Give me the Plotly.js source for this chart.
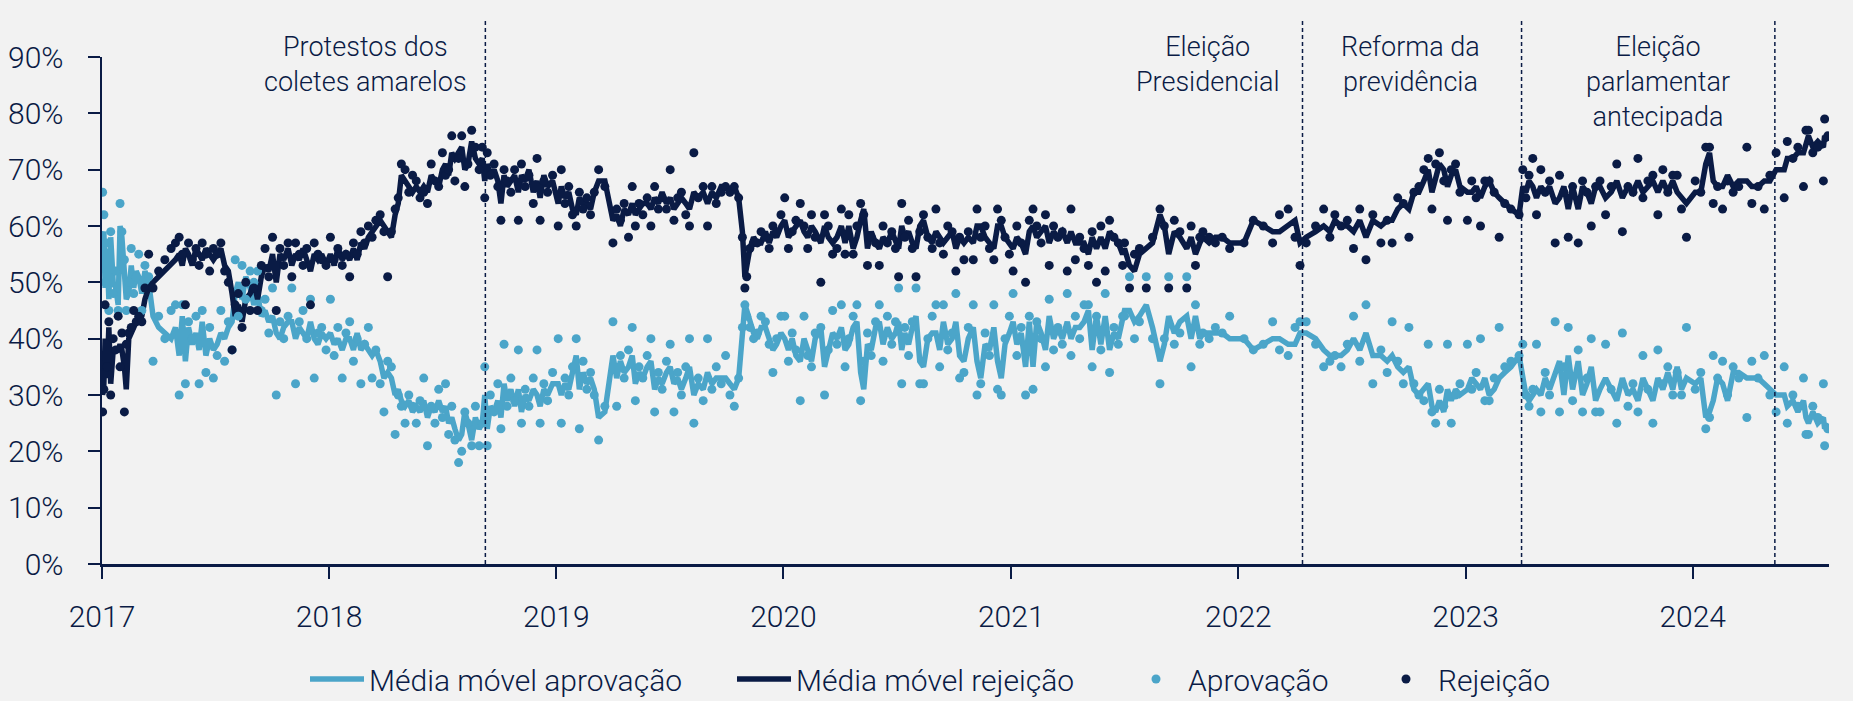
<!DOCTYPE html>
<html>
<head>
<meta charset="utf-8">
<script src="https://cdn.plot.ly/plotly-3.0.1.min.js"></script>
<style>
  html, body { margin: 0; padding: 0; background: #F2F2F2; }
  #chart { width: 1853px; height: 701px; }
</style>
</head>
<body>
<div id="chart"></div>
<script>
// ---------------- DATA ----------------
const pollDates = [
  // 2017
  '2017-01-02','2017-01-04','2017-01-06','2017-01-09','2017-01-12','2017-01-15','2017-01-19','2017-01-23','2017-01-27','2017-01-30',
  '2017-02-02','2017-02-06','2017-02-09','2017-02-13','2017-02-17','2017-02-21','2017-02-25',
  '2017-03-01','2017-03-06','2017-03-11','2017-03-17','2017-03-24',
  '2017-04-02','2017-04-12','2017-04-22','2017-04-29',
  '2017-05-05','2017-05-10','2017-05-15','2017-05-20','2017-05-26',
  '2017-06-01','2017-06-06','2017-06-11','2017-06-17','2017-06-23','2017-06-29',
  '2017-07-05','2017-07-11','2017-07-17','2017-07-23','2017-07-29',
  '2017-08-03','2017-08-08','2017-08-14','2017-08-20','2017-08-27',
  '2017-09-02','2017-09-08','2017-09-14','2017-09-20','2017-09-26',
  '2017-10-02','2017-10-08','2017-10-14','2017-10-20','2017-10-27',
  '2017-11-02','2017-11-08','2017-11-14','2017-11-20','2017-11-26',
  '2017-12-02','2017-12-08','2017-12-14','2017-12-20','2017-12-27',
  // 2018
  '2018-01-03','2018-01-09','2018-01-15','2018-01-22','2018-01-28',
  '2018-02-03','2018-02-09','2018-02-15','2018-02-21','2018-02-27',
  '2018-03-05','2018-03-11','2018-03-17','2018-03-24','2018-03-30',
  '2018-04-05','2018-04-11','2018-04-17','2018-04-22','2018-04-27',
  '2018-05-03','2018-05-09','2018-05-15','2018-05-21','2018-05-27',
  '2018-06-02','2018-06-08','2018-06-14','2018-06-20','2018-06-26',
  '2018-07-02','2018-07-07','2018-07-12','2018-07-17','2018-07-22','2018-07-28',
  '2018-08-02','2018-08-07','2018-08-12','2018-08-18','2018-08-24','2018-08-30',
  '2018-09-04','2018-09-08','2018-09-12','2018-09-17','2018-09-23','2018-09-29',
  '2018-10-04','2018-10-09','2018-10-14','2018-10-20','2018-10-26',
  '2018-11-01','2018-11-06','2018-11-12','2018-11-18','2018-11-25',
  '2018-12-01','2018-12-06','2018-12-12','2018-12-18','2018-12-26',
  // 2019
  '2019-01-04','2019-01-09','2019-01-15','2019-01-21','2019-01-27',
  '2019-02-02','2019-02-07','2019-02-13','2019-02-19','2019-02-25',
  '2019-03-03','2019-03-10','2019-03-20',
  '2019-04-02','2019-04-08','2019-04-14','2019-04-20','2019-04-27',
  '2019-05-03','2019-05-08','2019-05-14','2019-05-20','2019-05-27',
  '2019-06-02','2019-06-08','2019-06-14','2019-06-20','2019-06-27',
  '2019-07-03','2019-07-09','2019-07-15','2019-07-21','2019-07-28',
  '2019-08-03','2019-08-10','2019-08-17','2019-08-25',
  '2019-09-01','2019-09-08','2019-09-15','2019-09-23','2019-09-30',
  '2019-10-07','2019-10-14','2019-10-21','2019-10-27','2019-10-31',
  '2019-11-03','2019-11-08','2019-11-14','2019-11-20','2019-11-26',
  '2019-12-03','2019-12-09','2019-12-15','2019-12-21','2019-12-28',
  // 2020
  '2020-01-03','2020-01-09','2020-01-15','2020-01-21','2020-01-28',
  '2020-02-03','2020-02-09','2020-02-15','2020-02-21',
  '2020-03-01','2020-03-07','2020-03-13','2020-03-20','2020-03-27',
  '2020-04-03','2020-04-09','2020-04-15','2020-04-22','2020-04-28',
  '2020-05-04','2020-05-09','2020-05-15','2020-05-21','2020-05-28',
  '2020-06-03','2020-06-09','2020-06-16','2020-06-23','2020-06-29',
  '2020-07-04','2020-07-09','2020-07-14','2020-07-20','2020-07-26',
  '2020-08-01','2020-08-07','2020-08-13','2020-08-20','2020-08-27',
  '2020-09-02','2020-09-08','2020-09-14','2020-09-21','2020-09-28',
  '2020-10-04','2020-10-10','2020-10-17','2020-10-24',
  '2020-11-01','2020-11-07','2020-11-13','2020-11-20','2020-11-27',
  '2020-12-04','2020-12-10','2020-12-16','2020-12-22','2020-12-29',
  // 2021
  '2021-01-04','2021-01-10','2021-01-17','2021-01-24','2021-01-30',
  '2021-02-05','2021-02-11','2021-02-18','2021-02-25',
  '2021-03-03','2021-03-10','2021-03-17','2021-03-24',
  '2021-04-01','2021-04-07','2021-04-14','2021-04-21','2021-04-28',
  '2021-05-05','2021-05-11','2021-05-18','2021-05-25',
  '2021-06-01','2021-06-08','2021-06-15','2021-06-22','2021-06-29',
  '2021-07-02','2021-07-10','2021-07-18','2021-07-26',
  '2021-08-06','2021-08-16','2021-08-28',
  '2021-09-04','2021-09-11','2021-09-20','2021-09-29',
  '2021-10-10','2021-10-17','2021-10-24','2021-10-31',
  '2021-11-05','2021-11-15','2021-11-25',
  '2021-12-06','2021-12-18',
  // 2022
  '2022-01-10','2022-01-25','2022-02-10','2022-02-25','2022-03-08','2022-03-22',
  '2022-04-02','2022-04-10','2022-04-20','2022-05-05','2022-05-18','2022-05-28',
  '2022-06-05','2022-06-15','2022-06-25','2022-07-05','2022-07-15','2022-07-25',
  '2022-08-05','2022-08-18','2022-08-28','2022-09-05','2022-09-14','2022-09-23',
  '2022-10-02','2022-10-10','2022-10-18','2022-10-26',
  '2022-11-02','2022-11-08','2022-11-14','2022-11-20','2022-11-27',
  '2022-12-03','2022-12-09','2022-12-16','2022-12-23',
  // 2023
  '2023-01-04','2023-01-11','2023-01-18','2023-01-25',
  '2023-02-01','2023-02-08','2023-02-16','2023-02-24',
  '2023-03-05','2023-03-15','2023-03-28',
  '2023-04-03','2023-04-08','2023-04-13','2023-04-19','2023-04-25',
  '2023-05-02','2023-05-09','2023-05-16','2023-05-25',
  '2023-06-01','2023-06-08','2023-06-15','2023-06-22',
  '2023-07-01','2023-07-08','2023-07-15','2023-07-22','2023-07-29',
  '2023-08-05','2023-08-14','2023-08-23',
  '2023-09-01','2023-09-10','2023-09-19','2023-09-27',
  '2023-10-05','2023-10-13','2023-10-21','2023-10-29',
  '2023-11-06','2023-11-14','2023-11-22','2023-11-30',
  '2023-12-07','2023-12-14','2023-12-22',
  // 2024
  '2024-01-05','2024-01-14','2024-01-22','2024-01-28',
  '2024-02-03','2024-02-10','2024-02-18','2024-02-26',
  '2024-03-06','2024-03-15','2024-03-28',
  '2024-04-05','2024-04-15','2024-04-25',
  '2024-05-04','2024-05-14','2024-05-27',
  '2024-06-01','2024-06-10','2024-06-18','2024-06-27',
  '2024-07-01','2024-07-05','2024-07-12','2024-07-20','2024-07-29','2024-07-31',
  '2024-08-05'
];

// Aprovação (poll values, %)
const approval = [
  // 2017
  66,62,50,57,45,59,48,52,45,64, 59,54,45,50,56,48,51, 55,45,53,51,36, 44,40,45,46, 30,46,32,43,40,
  44,32,45,34,42,33, 37,45,36,43,38, 54,44,53,47,52, 50,52,45,47,41, 49,30,43,40,44, 49,32,43,45,40, 47,33,41,42,38,
  // 2018
  47,37,42,33,41, 43,36,40,32,39, 42,33,38,32,27, 36,35,23,30,28, 25,30,28,25,29, 33,21,28,25,31,
  26,32,23,28,22,18, 20,27,25,21,28,21, 25,35,21,30,27,32, 24,39,28,33,29, 38,25,31,28,33, 38,25,32,29,34,
  // 2019
  40,25,33,30,35, 40,24,36,31,34, 30,22,28, 43,28,37,33,38, 42,29,35,33,37, 40,27,34,31,36,
  39,27,34,30,35, 40,25,33,29, 40,31,35,32,37, 30,28,33,42,46, 44,42,40,41,44, 43,39,34,40,44,
  // 2020
  44,36,41,38,29, 44,37,35,41, 42,30,38,45,39, 46,35,40,44,46, 29,36,41,37,43, 46,36,44,39,43,
  49,32,42,37,43, 49,32,32,40,44, 46,35,46,38,41, 48,33,34,42, 46,30,32,41,37, 46,31,30,40,44,
  // 2021
  48,37,42,30,44, 31,43,40,35, 47,38,42,39, 48,37,44,40,46, 46,35,44,38, 48,34,42,39,44,
  44,51,40,43, 51,40,32, 40,51,39,41, 51,35,46,39, 41,40,42, 41,44,
  // 2022
  40,38,39,43,38,37, 42,43,43,39,35,36, 37,35,39,44,36,46, 32,38,34,43,36,32, 42,32,30,29, 39,27,25,31,28, 39,25,30,32,
  // 2023
  39,31,34,40, 29,29,33,42, 35,36,37, 39,30,28,31,39, 27,34,30,43, 27,35,42,29, 38,27,33,40,27,
  27,39,31, 25,41,28,32, 27,37,31,25, 38,32,35,30, 34,30,42,
  // 2024
  31,34,24,26, 37,33,36,30, 35,33,26, 36,33,37, 30,27,35, 25,30,28,33, 23,23,28,26,32,21, 24
];

// Rejeição (poll values, %)
const rejection = [
  // 2017
  27,31,46,35,43,30,40,38,44,35, 41,27,39,41,42,45,43, 44,43,49,55,49, 52,54,56,57, 58,55,46,57,54,
  56,53,57,55,52,56, 55,57,52,50,38, 46,48,42,50,45, 49,45,53,56,51, 58,45,56,53,57, 51,57,55,53,56, 46,57,55,54,53,
  // 2018
  58,54,56,53,55, 51,57,55,59,57, 60,58,61,62,59, 51,59,63,65,71, 70,66,69,68,65, 66,64,71,68,67,
  73,69,70,76,68,72, 76,67,71,77,74,70, 74,65,73,69,71,67, 61,70,68,66,70, 61,71,67,69,64, 72,61,68,66,69,
  // 2019
  60,70,64,67,62, 60,66,63,65,62, 66,70,67, 57,63,61,64,58, 67,60,64,62,65, 60,67,63,65,63,
  70,61,65,66,62, 60,73,65,67, 60,67,64,66,67, 66,67,65,58,49, 51,56,57,57,59, 58,56,60,59,62,
  // 2020
  65,56,59,61,64, 60,56,62,58, 50,62,60,55,56, 63,55,62,55,60, 64,62,53,58,57, 53,60,57,59,56,
  51,64,58,61,56, 51,59,62,58,56, 63,57,55,60,59, 52,58,54,59, 54,63,58,60,56, 54,63,61,58,55,
  // 2021
  52,60,57,50,61, 63,60,57,62, 53,60,58,59, 52,63,54,58,56, 53,59,50,60, 52,61,58,57,53,
  57,49,55,56, 49,58,63, 60,49,61,59, 49,60,53,58, 59,58,57, 58,56,
  // 2022
  57,61,60,57,62,63, 58,53,57,60,63,58, 62,60,61,56,63,54, 62,57,61,57,65,64, 58,66,67,70, 72,63,71,73,68, 61,70,71,66,
  // 2023
  61,68,65,60, 68,68,66,58, 64,63,62, 70,65,69,72,62, 70,66,68,57, 69,66,58,67, 57,68,66,60,67,
  68,62,67, 71,59,67,66, 72,65,68,69, 62,70,66,69, 69,63,58,
  // 2024
  68,66,74,74, 64,67,63,68, 66,67,74, 64,67,63, 69,73,65, 75,72,74,67, 77,77,73,74,68,79, 76
];

// Média móvel aprovação (%)
const approvalMA = [
  // 2017
  58,59,49,56,47,58,50,49,46,60, 58,51,47,48,53,49,52, 51,48,52,50,44, 42,41,40,42, 37,44,36,42,39,
  41,38,43,37,40,38, 39,41,40,42,43, 48,50,47,51,49, 46,48,44,45,43, 44,41,40,42,43, 43,40,42,41,40, 43,40,39,41,40,
  // 2018
  41,39,40,38,40, 40,38,41,38,39, 38,37,38,36,33, 34,33,30,31,29, 28,29,27,28,27, 29,26,28,27,29,
  27,28,25,26,24,22, 23,27,25,22,26,24, 25,30,24,28,27,29, 26,32,29,31,28, 31,27,30,29,31, 30,28,31,30,32,
  // 2019
  32,30,32,31,34, 37,31,34,32,33, 31,26,27, 37,33,36,34,35, 37,32,34,33,35, 36,31,33,32,34,
  35,32,33,31,33, 35,30,32,31, 34,32,33,33,33, 32,31,33,40,46, 45,43,41,40,42, 42,40,38,39,41,
  // 2020
  40,38,40,37,36, 40,38,36,40, 42,35,38,41,40, 42,38,39,42,43, 34,31,39,38,42, 43,39,42,40,41,
  43,38,41,39,42, 44,36,35,40,41, 41,38,43,39,40, 43,37,36,40, 42,36,33,39,38, 42,36,33,39,41,
  // 2021
  43,39,41,35,43, 35,43,41,38, 44,40,42,40, 43,40,42,42,43, 45,38,44,39, 44,38,41,40,43,
  45,45,43,44, 46,42,36, 39,44,41,43, 44,40,44,40, 41,41,41, 41,40,
  // 2022
  40,38,39,40,40,39, 39,41,41,40,38,37, 37,37,38,40,38,41, 37,37,36,37,35,34, 35,31,30,31, 32,28,27,29,27, 31,29,31,30,
  // 2023
  31,33,32,31, 33,30,31,33, 34,35,37, 33,30,29,30,31, 30,33,31,34, 36,30,37,31, 36,30,32,35,29,
  31,33,31, 29,33,30,31, 29,33,31,29, 33,31,34,31, 35,31,33,
  // 2024
  32,33,26,27, 29,33,32,29, 34,34,33, 33,33,32, 31,30,30, 28,29,27,29, 26,25,27,25,26,24, 25
];

// Média móvel rejeição (%)
const rejectionMA = [
  // 2017
  30,32,40,33,42,32,38,38,38,39, 38,35,31,40,41,42,43, 43,44,47,49,50, 51,52,53,54, 55,53,56,55,53,
  56,55,54,56,55,54, 55,56,53,52,48, 44,46,43,47,48, 50,47,51,53,52, 55,50,55,54,56, 53,55,54,56,54, 52,55,54,55,53,
  // 2018
  55,53,56,54,55, 54,56,54,57,56, 58,59,60,61,60, 59,58,62,64,69, 68,67,66,67,66, 67,66,69,68,67,
  70,71,69,73,72,73, 74,70,71,75,72,71, 72,68,71,69,70,68, 64,69,67,68,69, 66,69,68,70,66, 68,65,69,67,68,
  // 2019
  64,67,65,66,63, 62,65,64,64,63, 66,68,68, 61,62,60,63,62, 64,62,63,64,64, 63,65,64,66,64,
  65,63,64,65,64, 63,66,65,66, 64,66,65,67,67, 66,67,65,59,51, 53,56,58,57,57, 59,57,59,58,60,
  // 2020
  61,58,59,60,61, 59,58,60,59, 57,60,58,57,58, 60,57,60,56,58, 61,63,56,59,57, 56,58,57,59,57,
  56,60,58,59,57, 56,60,61,58,57, 59,58,57,58,59, 56,58,57,58, 57,60,60,58,57, 56,60,60,58,57,
  // 2021
  56,58,57,55,59, 60,58,59,60, 57,59,58,59, 57,59,57,57,57, 55,58,56,58, 56,59,58,57,55,
  56,53,52,55, 56,57,62, 60,55,59,58, 56,58,55,57, 58,57,58, 58,57,
  // 2022
  57,61,60,59,59,60, 61,57,58,59,60,59, 61,60,60,59,61,58, 61,60,61,61,63,64, 63,66,66,68, 70,66,69,71,70, 67,69,70,67,
  // 2023
  66,66,67,65, 67,68,66,65, 64,63,62, 67,66,68,67,65, 67,66,67,64, 65,67,63,67, 63,67,66,64,67,
  67,65,66, 68,65,67,66, 68,66,67,68, 66,68,66,68, 66,65,64,
  // 2024
  66,66,71,73, 68,67,67,69, 67,68,68, 67,67,68, 68,70,70, 72,72,73,73, 75,76,74,75,74,76, 75
];

const yearTicks = ['2017-01-01','2018-01-01','2019-01-01','2020-01-01','2021-01-01','2022-01-01','2023-01-01','2024-01-01'];
const yearLabels = ['2017','2018','2019','2020','2021','2022','2023','2024'];
const yTicks = [0,10,20,30,40,50,60,70,80,90];
const yLabels = ['0%','10%','20%','30%','40%','50%','60%','70%','80%','90%'];

const eventDates = ['2018-09-09','2022-04-14','2023-04-01','2024-05-12'];
const eventLabels = ['Protestos dos<br>coletes amarelos','Eleição<br>Presidencial','Reforma da<br>previdência','Eleição<br>parlamentar<br>antecipada'];
const seriesNames = ['Média móvel aprovação','Média móvel rejeição','Aprovação','Rejeição'];

// ---------------- STYLE ----------------
const NAVY = '#0A1B45';
const LIGHT = '#4BA5C9';
const BG = '#F2F2F2';
const FONT = 'Roboto, "Open Sans", "Liberation Sans", sans-serif';

const traces = [
  {x: pollDates, y: approvalMA, name: seriesNames[0], type: 'scatter', mode: 'lines',
   line: {color: LIGHT, width: 5.5}, legend: 'legend'},
  {x: pollDates, y: rejectionMA, name: seriesNames[1], type: 'scatter', mode: 'lines',
   line: {color: NAVY, width: 5.5}, legend: 'legend2'},
  {x: pollDates, y: approval, name: seriesNames[2], type: 'scatter', mode: 'markers',
   marker: {color: LIGHT, size: 9}, legend: 'legend3'},
  {x: pollDates, y: rejection, name: seriesNames[3], type: 'scatter', mode: 'markers',
   marker: {color: NAVY, size: 9}, legend: 'legend4'}
];

const W = 1853, H = 701;
function legendAt(px) {
  return {
    orientation: 'h', xref: 'container', yref: 'container',
    x: px / W, xanchor: 'left', y: (H - 679) / H, yanchor: 'middle',
    bgcolor: 'rgba(0,0,0,0)', borderwidth: 0, itemwidth: 54,
    font: {family: FONT, size: 30, color: NAVY, weight: 300}
  };
}

const shapes = eventDates.map(d => ({
  type: 'line', xref: 'x', yref: 'paper', x0: d, x1: d, y0: 0, y1: 1.074,
  line: {color: NAVY, width: 1.5, dash: '4px,3px'}, layer: 'above'
}));

const labelX = [0.1523, 0.6405, 0.7574, 0.9010];
const labelY = [0.985, 0.985, 0.985, 0.950];
const annotations = eventLabels.map((t, i) => ({
  text: t, xref: 'paper', yref: 'paper', x: labelX[i], y: labelY[i],
  xanchor: 'center', yanchor: 'middle', align: 'center', showarrow: false,
  font: {family: FONT, size: 27, color: NAVY, weight: 300}
}));

const layout = {
  width: W, height: H,
  paper_bgcolor: BG, plot_bgcolor: BG,
  margin: {l: 102, r: 24, t: 57, b: 137, autoexpand: false},
  font: {family: FONT, color: NAVY, weight: 300},
  showlegend: true,
  xaxis: {
    type: 'date', range: ['2017-01-01', '2024-08-07'],
    tickmode: 'array', tickvals: yearTicks, ticktext: yearLabels,
    showline: true, linecolor: NAVY, linewidth: 3,
    ticks: 'outside', ticklen: 12, tickwidth: 2, tickcolor: NAVY,
    showgrid: false, zeroline: false, ticklabelstandoff: 12,
    tickfont: {family: FONT, size: 30, color: NAVY, weight: 300}
  },
  yaxis: {
    range: [0, 90], tickmode: 'array', tickvals: yTicks, ticktext: yLabels,
    showline: true, linecolor: NAVY, linewidth: 2.5,
    ticks: 'outside', ticklen: 12, tickwidth: 2, tickcolor: NAVY,
    showgrid: false, zeroline: false, ticklabelstandoff: 18,
    tickfont: {family: FONT, size: 30, color: NAVY, weight: 300}
  },
  legend: legendAt(305),
  legend2: legendAt(732),
  legend3: legendAt(1124),
  legend4: legendAt(1374),
  shapes: shapes,
  annotations: annotations
};

Plotly.newPlot('chart', traces, layout, {staticPlot: true, displayModeBar: false});
</script>
</body>
</html>
